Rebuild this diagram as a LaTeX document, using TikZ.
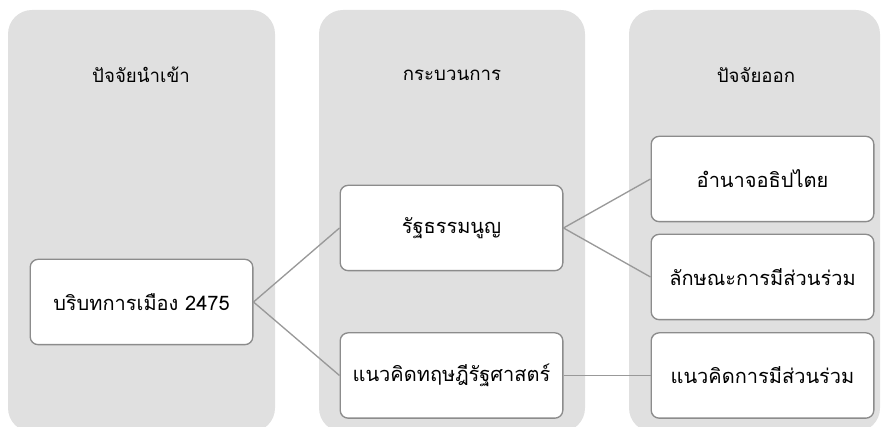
\documentclass[tikz,border=0pt]{standalone}
\usepackage{fontspec}
\newfontfamily\thaifont[Script=Thai]{Loma}
\usetikzlibrary{positioning}
\definecolor{panelgrey}{HTML}{E0E0E0}
\definecolor{edgegrey}{HTML}{8C8C8C}
\definecolor{linkgrey}{HTML}{999999}
\tikzset{
  stagebox/.style={draw=edgegrey,line width=1pt,fill=white,rounded corners=6pt,minimum width=167pt,minimum height=64pt,inner sep=0.75pt,font=\thaifont\fontsize{15}{18}\selectfont},
  stagetitle/.style={inner sep=0.75pt,font=\thaifont\fontsize{14}{17}\selectfont},
  link/.style={draw=linkgrey,line width=1pt}
}
\begin{document}
\begin{tikzpicture}[x=0.75pt,y=0.75pt,yscale=-1,xscale=1]
\useasboundingbox (0,0) rectangle (882,427);

%Shape: Panel [id:input]
\fill[panelgrey,rounded corners=18pt] (8,10) rectangle (275,432);
%Shape: Panel [id:process]
\fill[panelgrey,rounded corners=18pt] (319,10) rectangle (585,432);
%Shape: Panel [id:output]
\fill[panelgrey,rounded corners=18pt] (629,10) rectangle (880,432);

% Text Node
\node[stagetitle] (tin) at (141,75) {ปัจจัยนำเข้า};
% Text Node
\node[stagetitle] (tproc) at (452,75) {กระบวนการ};
% Text Node
\node[stagetitle] (tout) at (756,75) {ปัจจัยออก};

% Box Node
\node[stagebox] (context) at (141.5,302) {บริบทการเมือง 2475};
% Box Node
\node[stagebox] (charter) at (451.5,228) {รัฐธรรมนูญ};
% Box Node
\node[stagebox] (theory) at (451.5,375.5) {แนวคิดทฤษฎีรัฐศาสตร์};
% Box Node
\node[stagebox] (sovereign) at (762.5,179) {อำนาจอธิปไตย};
% Box Node
\node[stagebox] (nature) at (762.5,277) {ลักษณะการมีส่วนร่วม};
% Box Node
\node[stagebox] (concept) at (762.5,375.5) {แนวคิดการมีส่วนร่วม};

%Straight Lines
\draw[link] (context.east) -- (charter.west);
\draw[link] (context.east) -- (theory.west);
\draw[link] (charter.east) -- (sovereign.west);
\draw[link] (charter.east) -- (nature.west);
\draw[link] (theory.east) -- (concept.west);
\end{tikzpicture}
\end{document}
